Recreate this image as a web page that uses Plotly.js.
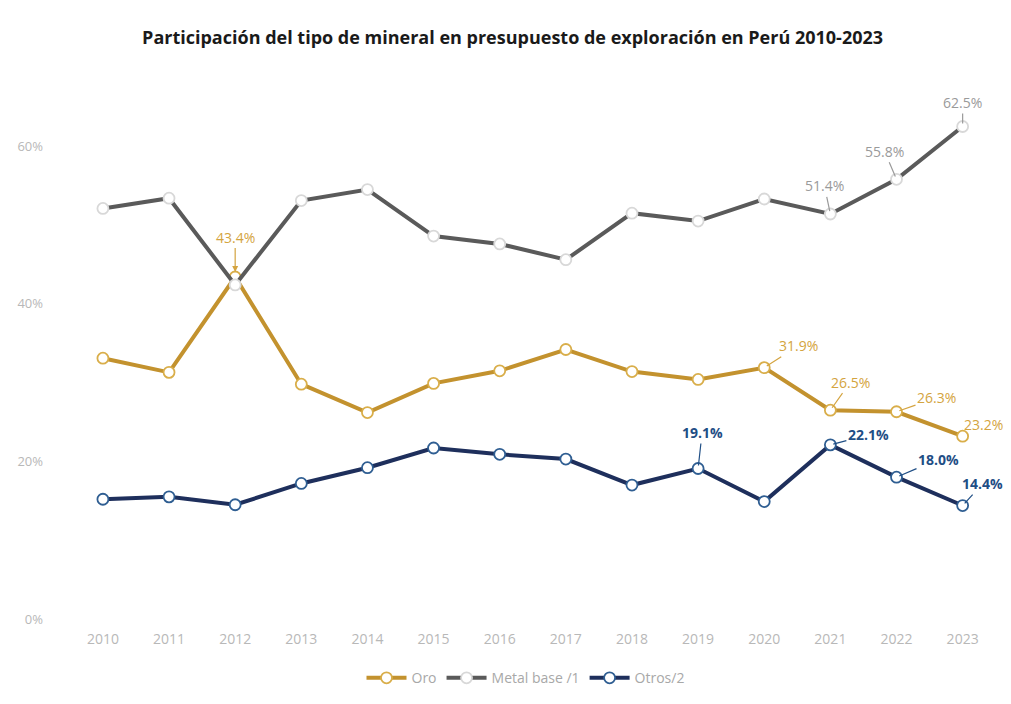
<!DOCTYPE html>
<html>
<head>
<meta charset="utf-8">
<script src="https://cdn.plot.ly/plotly-3.0.1.min.js"></script>
<style>html,body{margin:0;padding:0;background:#fff;}#chart{width:1011px;height:704px;}</style>
</head>
<body>
<div id="chart"></div>
<script>
const years = ["2010","2011","2012","2013","2014","2015","2016","2017","2018","2019","2020","2021","2022","2023"];
const oro = [33.1,31.3,43.4,29.8,26.2,29.9,31.5,34.2,31.4,30.4,31.9,26.5,26.3,23.2];
const metalBase = [52.1,53.4,42.4,53.1,54.5,48.6,47.6,45.6,51.5,50.5,53.3,51.4,55.8,62.5];
const otros = [15.2,15.5,14.5,17.2,19.2,21.7,20.9,20.3,17.0,19.1,14.9,22.1,18.0,14.4];
const seriesNames = ["Oro","Metal base /1","Otros/2"];
const yTicks = [0,20,40,60];
const yTickText = ["0%","20%","40%","60%"];

const cOro = "#C3922E", cMetal = "#5A5A5A", cOtros = "#1E2F5C";
const cOroTxt = "#D4A440", cMetalTxt = "#9A9A9A", cOtrosTxt = "#1F4E85";

function trace(y, name, lc, mc) {
  return {x: years, y: y, name: name, type: "scatter", mode: "lines+markers",
    line: {color: lc, width: 4},
    marker: {size: 11, color: "#ffffff", line: {color: mc, width: 1.8}}};
}
const data = [
  trace(oro, seriesNames[0], cOro, "#D9AE4A"),
  trace(metalBase, seriesNames[1], cMetal, "#D8D8D8"),
  trace(otros, seriesNames[2], cOtros, "#2F5E92")
];

function lab(i, arr, color, ax, ay, bold, arrowhead) {
  const v = arr[i].toFixed(1) + "%";
  return {x: i, y: arr[i], xref: "x", yref: "y", text: bold ? "<b>" + v + "</b>" : v,
    showarrow: true, arrowhead: arrowhead || 0, arrowsize: 1, arrowwidth: 1.2, arrowcolor: color,
    ax: ax, ay: ay, font: {color: color, size: 14, family: "Liberation Sans Narrow, Open Sans, sans-serif"},
    standoff: 3};
}
const annotations = [
  Object.assign(lab(2, oro, cOroTxt, 0, -40, false, 2), {standoff: 5}),
  lab(10, oro, cOroTxt, 34, -22, false),
  lab(11, oro, cOroTxt, 20, -28, false),
  lab(12, oro, cOroTxt, 40, -14, false),
  lab(13, oro, cOroTxt, 21, -12, false),
  lab(11, metalBase, cMetalTxt, -6, -28, false),
  lab(12, metalBase, cMetalTxt, -12, -28, false),
  lab(13, metalBase, cMetalTxt, 0, -24, false),
  lab(9, otros, cOtrosTxt, 4, -36, true),
  lab(11, otros, cOtrosTxt, 38, -10, true),
  lab(12, otros, cOtrosTxt, 42, -18, true),
  lab(13, otros, cOtrosTxt, 20, -22, true)
];

const layout = {
  width: 1011, height: 704,
  margin: {l: 50, r: 10, t: 95, b: 80},
  paper_bgcolor: "#ffffff", plot_bgcolor: "#ffffff",
  font: {family: "Liberation Sans Narrow, Open Sans, sans-serif", color: "#bbbbbb"},
  title: {text: "<b>Participación del tipo de mineral en presupuesto de exploración en Perú 2010-2023</b>",
    x: 0.507, xanchor: "center", y: 0.947, yanchor: "middle",
    font: {size: 18, color: "#1a1a1a", family: "Liberation Sans Narrow, Open Sans, sans-serif"}},
  xaxis: {type: "category", range: [-0.8, 13.58], showgrid: false, zeroline: false, showline: false,
    ticks: "", ticklabelstandoff: 10, tickfont: {size: 14, color: "#b8b8b8"}},
  yaxis: {range: [0, 66.5], tickvals: yTicks, ticktext: yTickText, showgrid: false, zeroline: false,
    showline: false, ticks: "", ticklabelstandoff: 6, tickfont: {size: 13, color: "#b8b8b8"}},
  showlegend: true,
  legend: {orientation: "h", x: 0.5, xanchor: "center", y: -0.113, yanchor: "middle",
    font: {size: 14, color: "#a8a8a8"}, itemwidth: 40, tracegroupgap: 0},
  annotations: annotations
};
Plotly.newPlot("chart", data, layout, {displayModeBar: false, staticPlot: true});
</script>
</body>
</html>
